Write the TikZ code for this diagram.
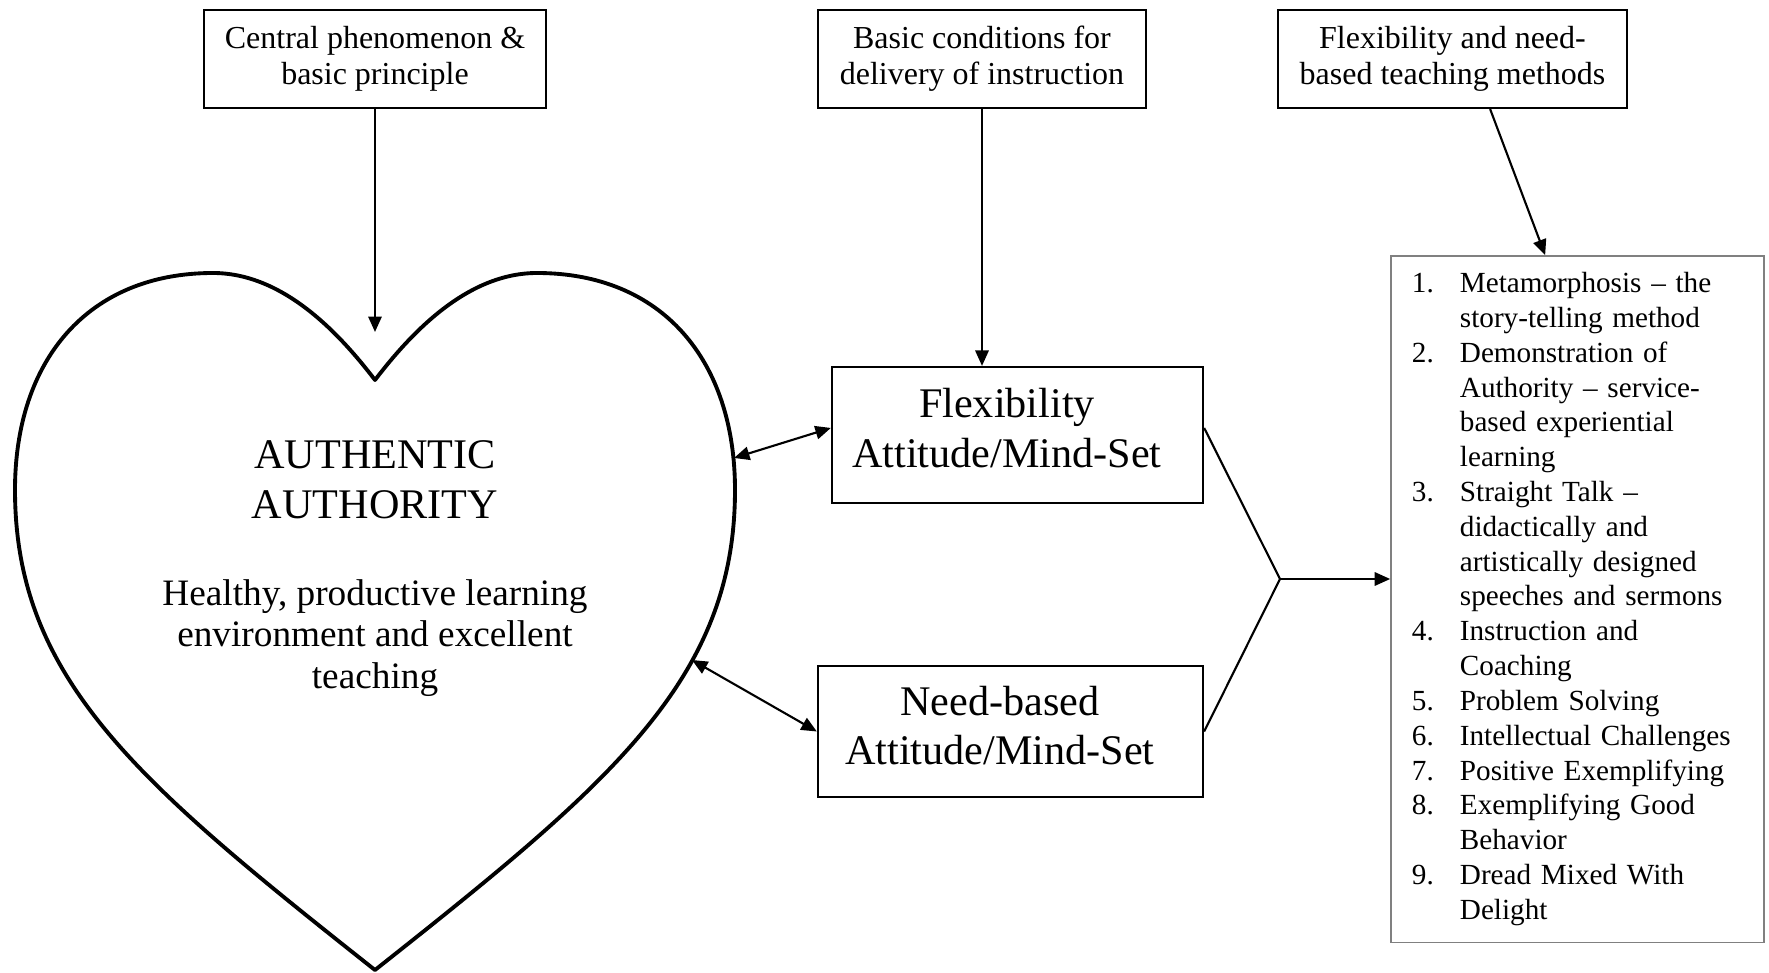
\documentclass[tikz,border=0pt]{standalone}
\usepackage{fontspec}
\setmainfont{Liberation Serif}
\usetikzlibrary{arrows.meta}
\tikzset{
    >={Triangle[length=4.4pt, width=3.8pt]}, % filled triangle heads
    every node/.style={align=center, inner sep=0pt},
    topbox/.style={draw, line width=0.6pt, minimum height=0.98cm, font=\fontsize{9.1}{10.3}\selectfont}, % boxes on the top row
    attbox/.style={draw, line width=0.6pt, font=\fontsize{12}{14.1}\selectfont}, % the two mind-set boxes
    link/.style={line width=0.6pt},
}
\newcommand{\mitem}[2]{\makebox[0.48cm][l]{#1}#2}
\newcommand{\mcont}[1]{\hspace*{0.48cm}#1}

\begin{document}
\begin{tikzpicture}[x=0.01cm, y=-0.01cm]
\useasboundingbox (0,0) rectangle (1769,973);

% the heart
\draw[line width=1.1pt, line join=round] (375,380) .. controls (411,333) and (467,273) .. (537,273)
    .. controls (662,273) and (735,360) .. (735,490)
    .. controls (735,680) and (610,784) .. (375,970)
    .. controls (140,784) and (15,680) .. (15,490)
    .. controls (15,360) and (88,273) .. (213,273)
    .. controls (283,273) and (339,333) .. (375,380) -- cycle;
\coordinate (notch) at (375,332);
\coordinate (hrtA) at (734,458);
\coordinate (hrtB) at (692,660);

\node[font=\fontsize{12}{14.1}\selectfont] (title) at (375,480) {AUTHENTIC\\AUTHORITY};
\node[font=\fontsize{10.6}{11.8}\selectfont] (goal) at (375,638) {Healthy, productive learning\\environment and excellent\\teaching};

% top row
\node[topbox, minimum width=3.42cm] (central) at (375,59) {Central phenomenon \&\\basic principle};
\node[topbox, minimum width=3.28cm] (conditions) at (982,59) {Basic conditions for\\delivery of instruction};
\node[topbox, minimum width=3.49cm] (methods) at (1452.5,59) {Flexibility and need-\\based teaching methods};

% mind-sets
\node[attbox, minimum width=3.71cm, minimum height=1.36cm] (flex) at (1017.5,435) {Flexibility\hspace*{6pt}\\Attitude/Mind-Set\hspace*{6pt}\rule[-4pt]{0pt}{0pt}};
\node[attbox, minimum width=3.85cm, minimum height=1.31cm] (need) at (1010.5,731.5) {Need-based\hspace*{6pt}\\Attitude/Mind-Set\hspace*{6pt}\rule[-3.5pt]{0pt}{0pt}};

% list of methods
\node[draw=gray, line width=0.4pt, minimum height=6.86cm, text width=3.31cm, inner xsep=0.21cm, align=left,
      font=\fontsize{8.3}{9.9}\selectfont] (list) at (1577.5,599) {%
    \mitem{1.}{Metamorphosis -- the}\\
    \mcont{story-telling method}\\
    \mitem{2.}{Demonstration of}\\
    \mcont{Authority -- service-}\\
    \mcont{based experiential}\\
    \mcont{learning}\\
    \mitem{3.}{Straight Talk --}\\
    \mcont{didactically and}\\
    \mcont{artistically designed}\\
    \mcont{speeches and sermons}\\
    \mitem{4.}{Instruction and}\\
    \mcont{Coaching}\\
    \mitem{5.}{Problem Solving}\\
    \mitem{6.}{Intellectual Challenges}\\
    \mitem{7.}{Positive Exemplifying}\\
    \mitem{8.}{Exemplifying Good}\\
    \mcont{Behavior}\\
    \mitem{9.}{Dread Mixed With}\\
    \mcont{Delight}};

% connectors
\draw[->, link] (central.south) -- (notch);
\draw[->, link] (conditions.south) -- (conditions.south |- flex.north);
\draw[->, link] ([xshift=10.7pt]methods.south) -- ([xshift=-9.2pt]list.north);
\draw[<->, link] (hrtA) -- ([yshift=2pt]flex.west);
\draw[<->, link] (hrtB) -- (need.west);
\coordinate (join) at (1280,579);
\draw[link] ([yshift=2pt]flex.east) -- (join) -- (need.east);
\draw[->, link] (join) -- (join -| list.west);
\end{tikzpicture}
\end{document}
